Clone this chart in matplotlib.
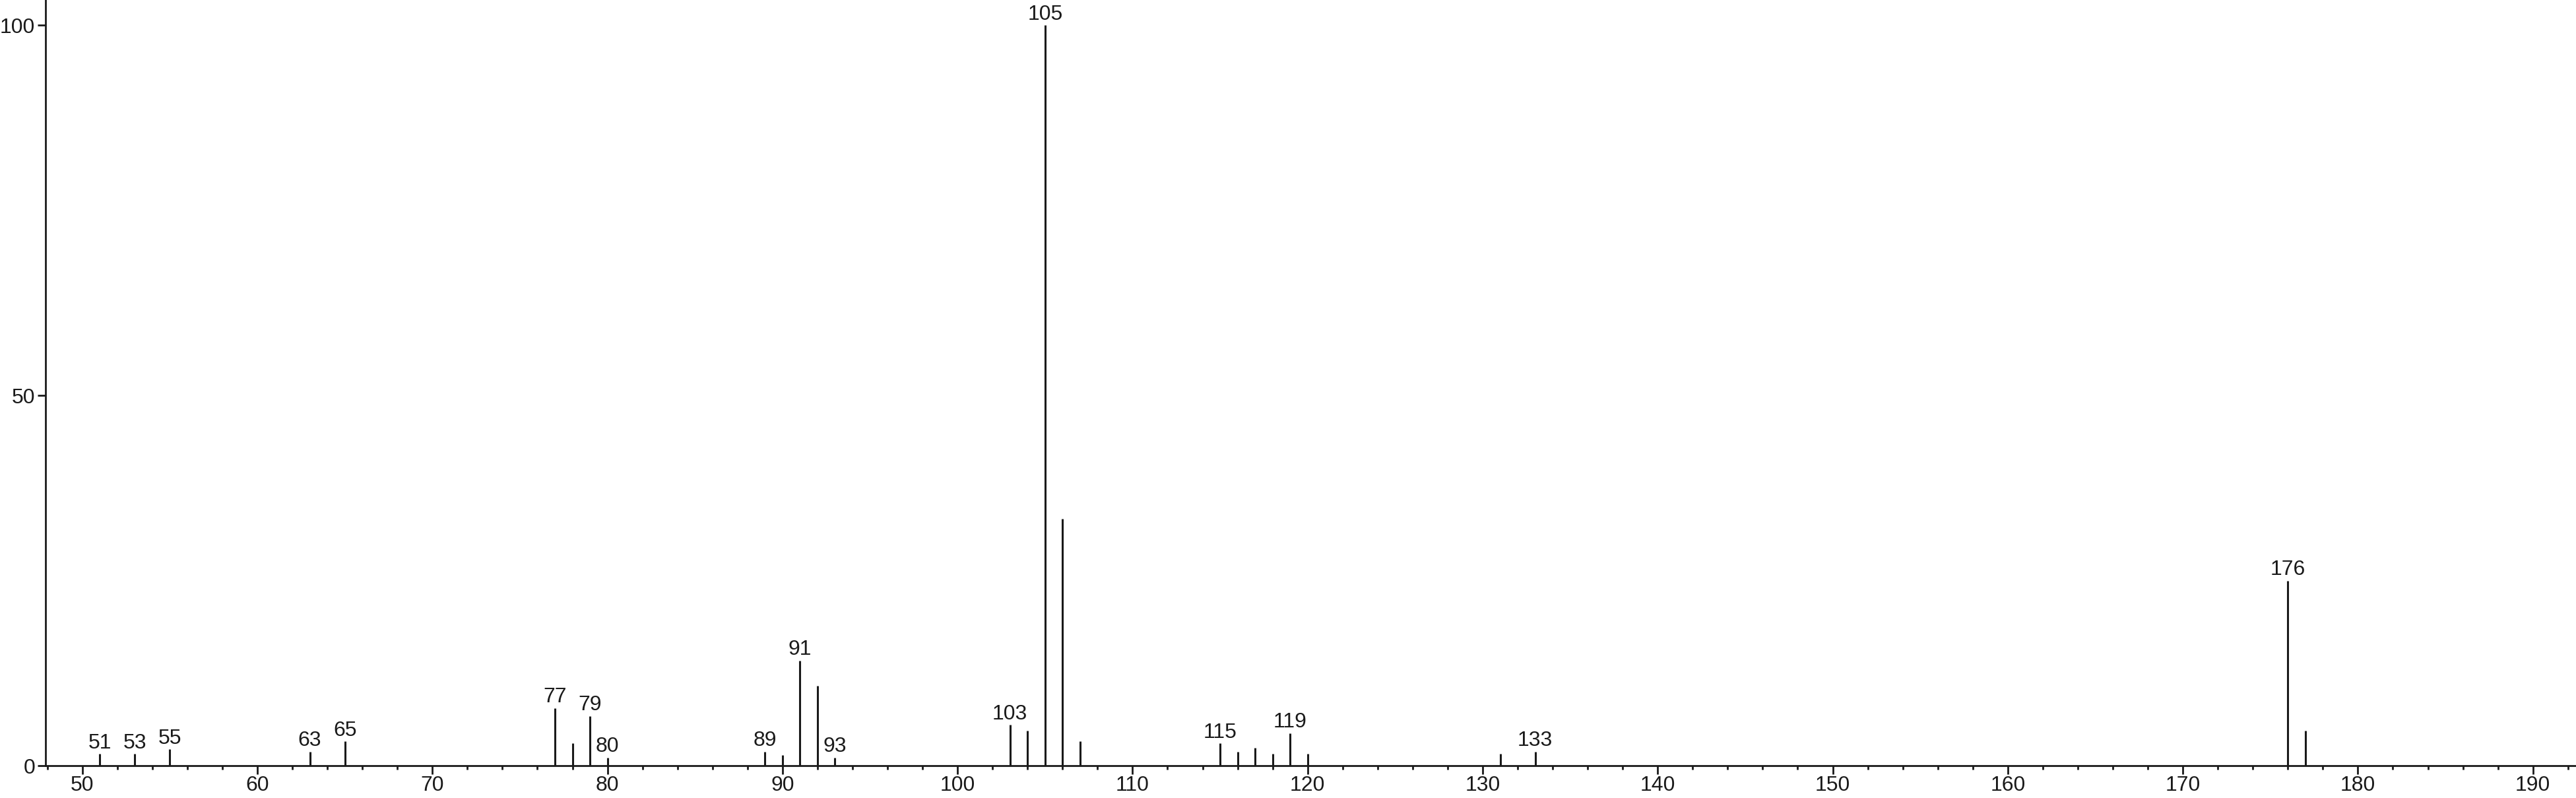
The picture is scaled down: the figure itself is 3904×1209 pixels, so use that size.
import matplotlib

matplotlib.use("Agg")
import matplotlib.pyplot as plt
from matplotlib.ticker import MultipleLocator

# mass spectrum: m/z and relative intensity (%)
mz = [51, 53, 55, 63, 65, 77, 78, 79, 80, 89, 90, 91, 92, 93,
      103, 104, 105, 106, 107, 115, 116, 117, 118, 119, 120,
      131, 133, 176, 177]
intensity = [1.6, 1.6, 2.2, 1.9, 3.3, 7.8, 3.0, 6.7, 1.1, 1.9, 1.4, 14.2, 10.8, 1.1,
             5.5, 4.7, 100.0, 33.3, 3.3, 3.0, 1.9, 2.4, 1.6, 4.4, 1.6,
             1.6, 1.9, 25.0, 4.7]
labeled_peaks = [51, 53, 55, 63, 65, 77, 79, 80, 89, 91, 93,
                 103, 105, 115, 119, 133, 176]

x_major = 10
x_minor = 2
y_ticks = [0, 50, 100]

plt.rcParams["font.family"] = ["Liberation Sans", "DejaVu Sans"]
ink = "#1a1a1a"

fig = plt.figure(figsize=(39.05, 12.09), dpi=100)
ax = fig.add_axes([0.01767, 0.0405, 1 - 0.01767, 1 - 0.0405])

ax.vlines(mz, 0, intensity, color=ink, linewidth=2.2)

for m, h in zip(mz, intensity):
    if m in labeled_peaks:
        ax.annotate(str(m), (m, h), xytext=(0, 1), textcoords="offset points",
                    ha="center", va="bottom", fontsize=23, color=ink)

ax.set_xlim(47.9, 192.5)
ax.set_ylim(0, 103.4)
ax.xaxis.set_major_locator(MultipleLocator(x_major))
ax.xaxis.set_minor_locator(MultipleLocator(x_minor))
ax.set_yticks(y_ticks)

for side in ("top", "right"):
    ax.spines[side].set_visible(False)
for side in ("left", "bottom"):
    ax.spines[side].set_linewidth(2.0)
    ax.spines[side].set_color(ink)

ax.tick_params(axis="x", which="major", direction="out", length=9, width=2.0,
               pad=2, labelsize=23, colors=ink)
ax.tick_params(axis="x", which="minor", direction="out", length=4.5, width=2.0, colors=ink)
ax.tick_params(axis="y", which="major", direction="out", length=8.5, width=2.0,
               pad=3, labelsize=23, colors=ink)

fig.savefig("out.png", dpi=100)
